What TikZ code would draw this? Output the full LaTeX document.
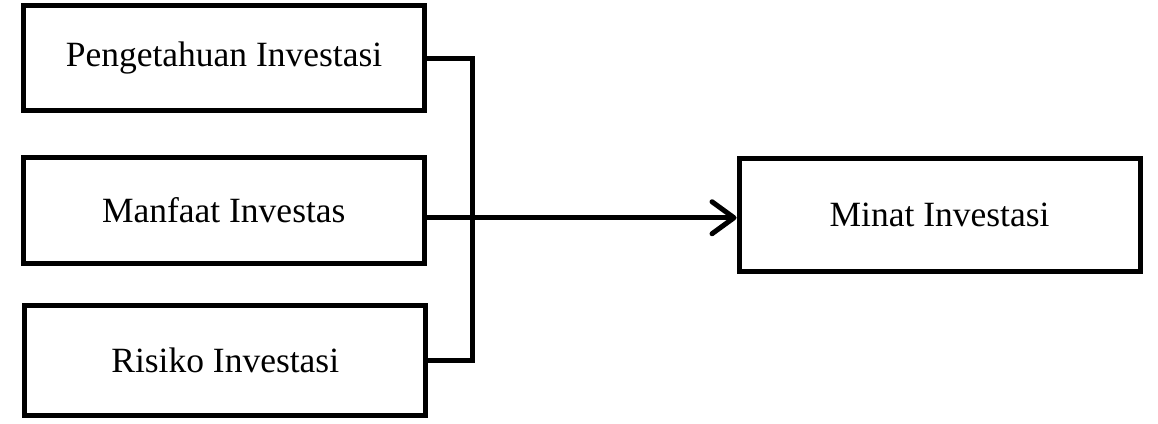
\documentclass[tikz,border=0pt]{standalone}
\usepackage{fontspec}
\setmainfont{Liberation Serif}
\usetikzlibrary{arrows.meta}
\tikzset{
  box/.style={draw=black, line width=5pt, inner sep=0pt, minimum width=401pt,
    font=\fontsize{35.5}{40}\selectfont},
  conn/.style={line width=5pt, draw=black},
}
\begin{document}
\begin{tikzpicture}[x=1pt,y=1pt]
\useasboundingbox (0,0) rectangle (1158,-423);
\node[box, minimum height=105pt] (b1) at (224,-58) {Pengetahuan Investasi};
\node[box, minimum height=106.5pt] (b2) at (223.75,-210.25) {Manfaat Investas};
\node[box, minimum height=110.5pt] (b3) at (225.25,-360.25) {Risiko Investasi};
\node[box, minimum height=113.5pt] (m) at (939.5,-214.75) {Minat Investasi};
\coordinate (j) at (472.5,0);
\coordinate (t) at ([yshift=-3pt]m.west);
\draw[conn] (b1.east) -| (j |- b3.east) -- (b3.east);
\draw[conn, -{Straight Barb[length=22pt,width=32pt,line width=5pt,round]}] (b2.east |- t) -- (t);
\end{tikzpicture}
\end{document}
